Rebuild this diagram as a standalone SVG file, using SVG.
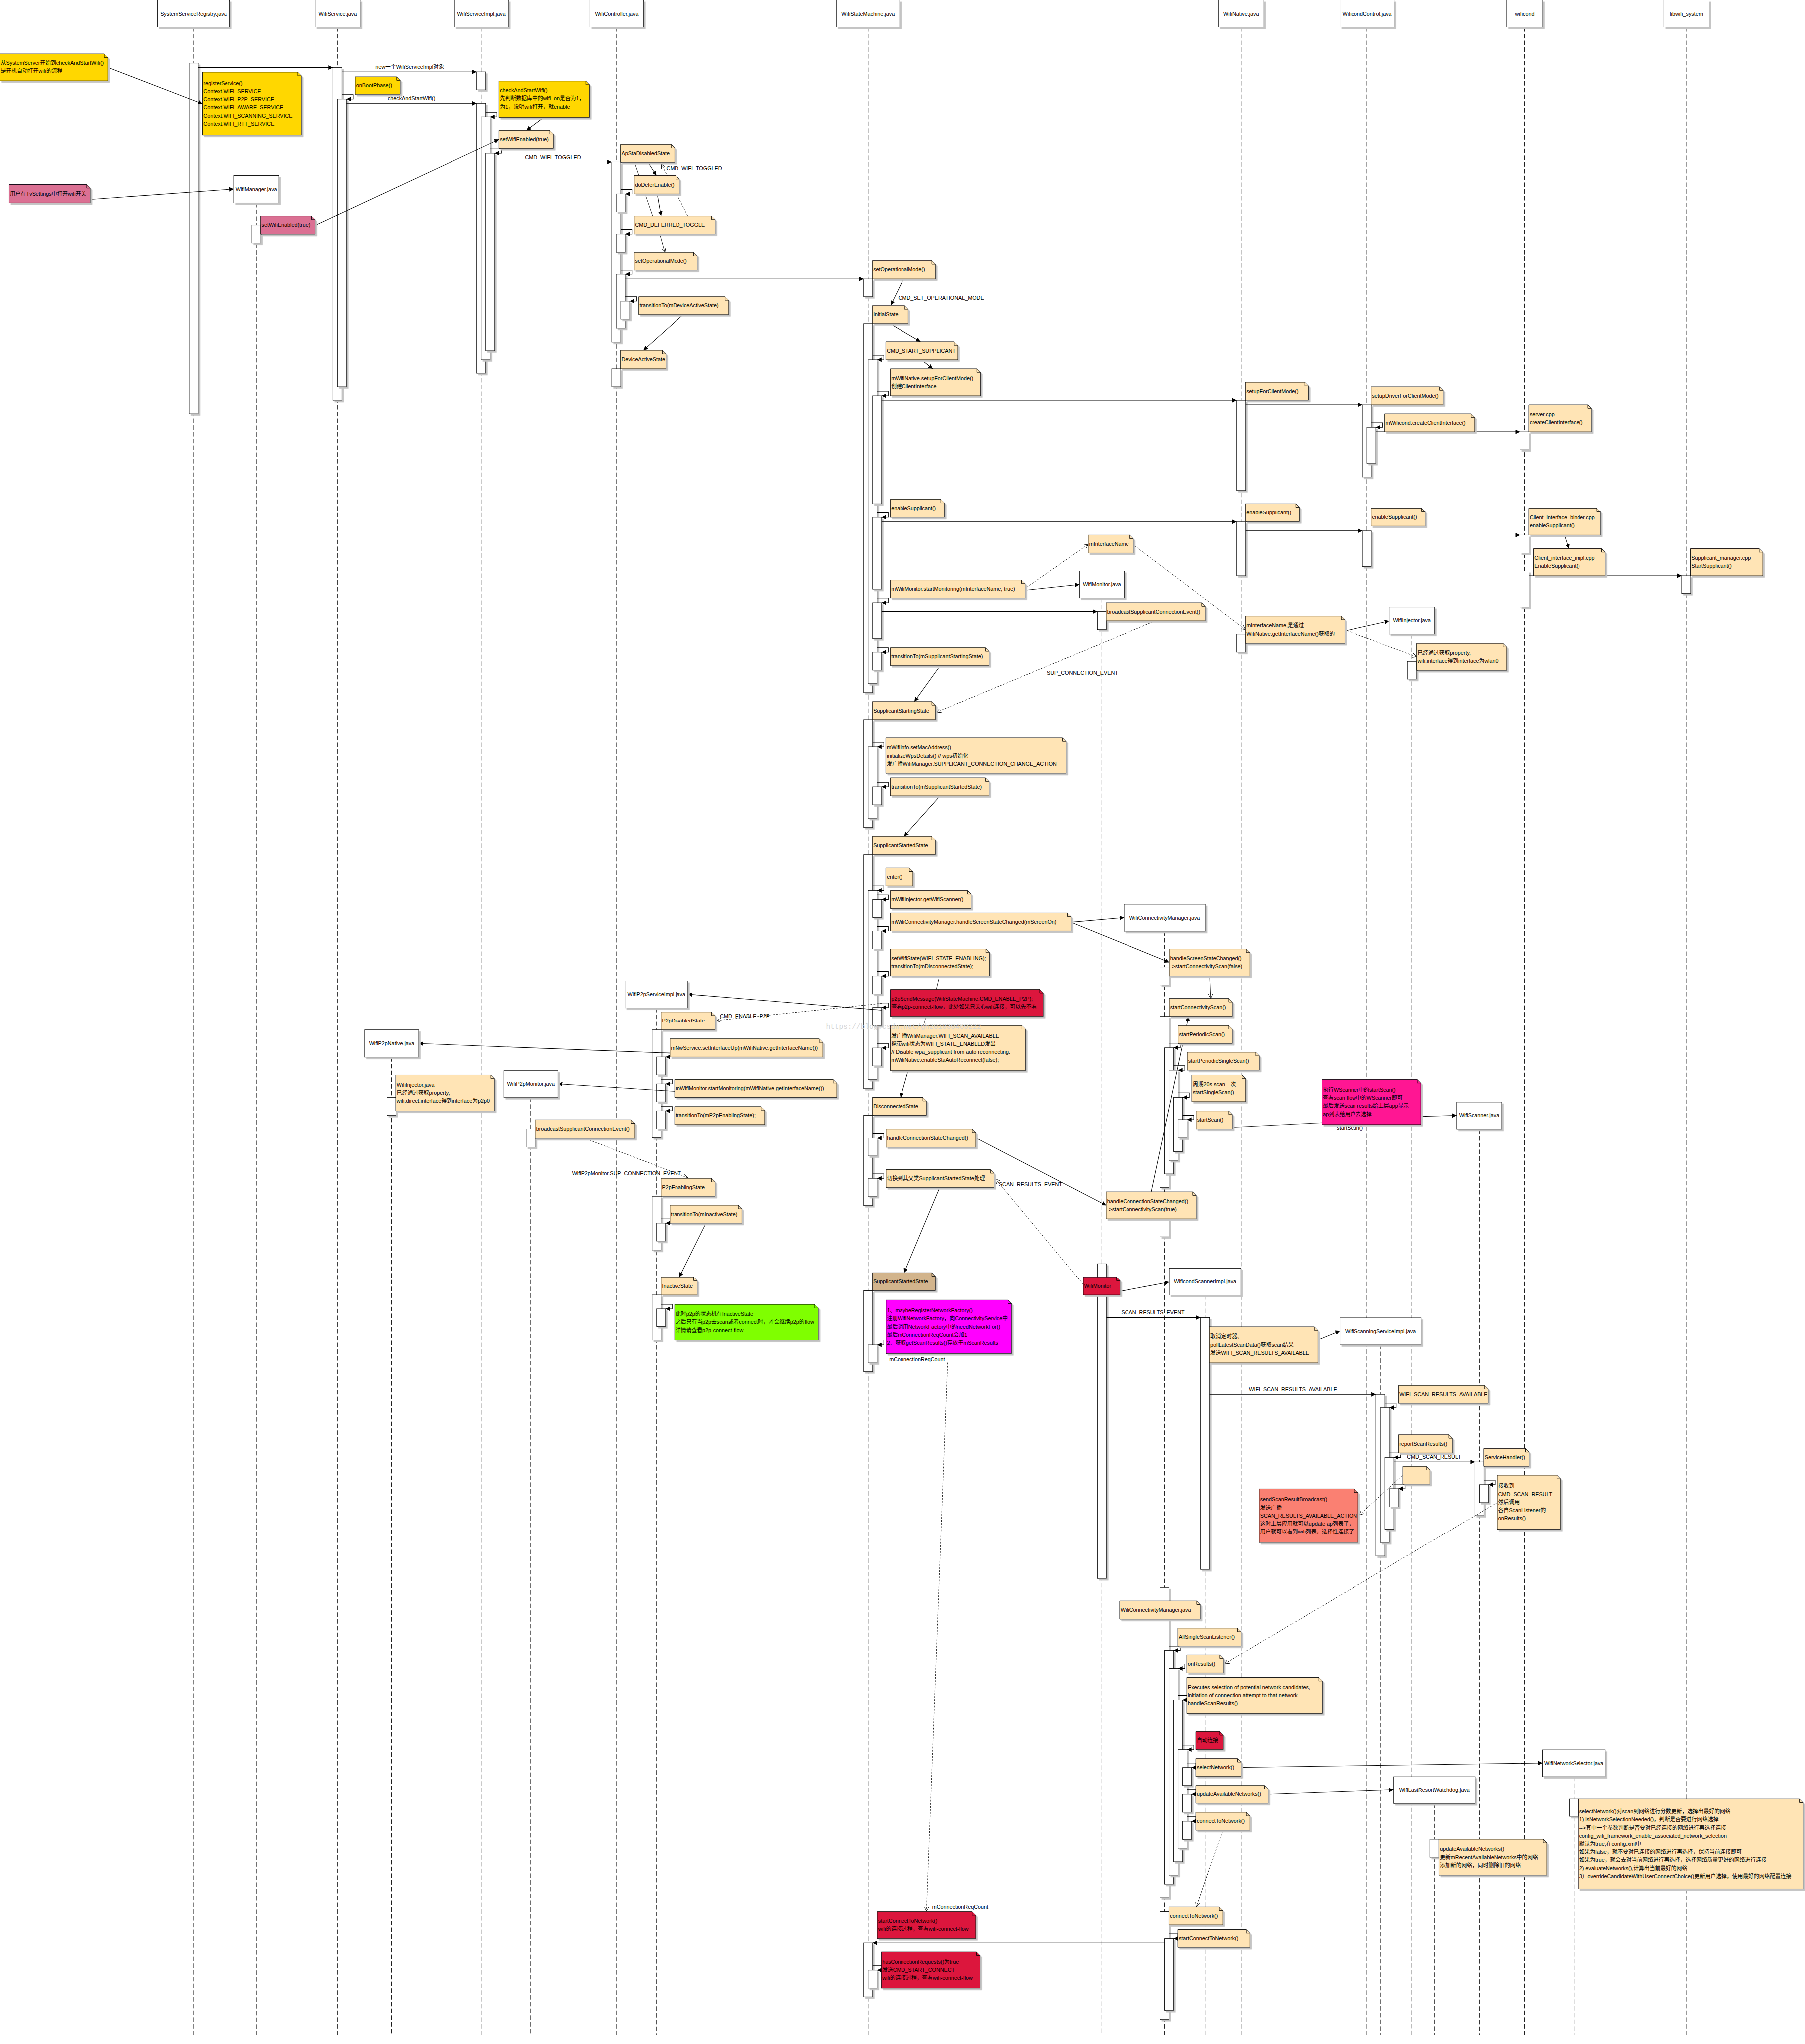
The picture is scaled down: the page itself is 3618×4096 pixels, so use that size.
<svg xmlns="http://www.w3.org/2000/svg" width="3618" height="4096" viewBox="0 0 3618 4096">
<defs>
<style>
text{font-family:"Liberation Sans","Noto Sans CJK SC",sans-serif;font-size:12px;fill:#000}
.c{text-anchor:middle}
.hb{fill:#fff;stroke:#000;stroke-width:1;filter:url(#ds)}
.ll{stroke:#000;stroke-width:1;stroke-dasharray:10 5;fill:none}
.br{fill:#fff;stroke:#000;stroke-width:1;filter:url(#ds)}
.nt{stroke:#000;stroke-width:1;filter:url(#ds)}
.fd{fill:none;stroke:#000;stroke-width:1}
.y{fill:#ffd700}.o{fill:#ffe4b5}.p{fill:#db7093}.r{fill:#dc143c}.dp{fill:#ff1493}.m{fill:#ff00ff}.g{fill:#7fff00}.s{fill:#fa8072}.tn{fill:#d2b48c}
.a{stroke:#000;stroke-width:1.2;fill:none;marker-end:url(#af)}
.ao{stroke:#000;stroke-width:1;fill:none;marker-end:url(#ao)}
.d{stroke:#000;stroke-width:1;fill:none;stroke-dasharray:4 3;marker-end:url(#ao)}
.l{stroke:#000;stroke-width:1;fill:none}
.wm{font-family:"Liberation Mono",monospace;font-size:16px;fill:#d6d6d6}
</style>
<filter id="ds" x="-30%" y="-20%" width="170%" height="160%"><feDropShadow dx="4" dy="4" stdDeviation="0" flood-color="#c4c4c4" flood-opacity="1"/></filter>
<marker id="af" viewBox="0 0 10 10" refX="10" refY="5" markerWidth="10" markerHeight="10" markerUnits="userSpaceOnUse" orient="auto"><path d="M0,0L10,5L0,10z" fill="#000"/></marker>
<marker id="ao" viewBox="0 0 10 10" refX="10" refY="5" markerWidth="10" markerHeight="10" markerUnits="userSpaceOnUse" orient="auto"><path d="M0,0L10,5L0,10" fill="none" stroke="#000" stroke-width="1"/></marker>
</defs>
<rect width="3618" height="4096" fill="#fff"/>
<g transform="scale(0.9012)">
<g id="lifelines">
<path class="ll" d="M430.5,60.5V4525M570.5,451V4525M750.5,60.5V4525M870.5,2351V4525M1070.5,60.5V4525M1180.5,2441V4525M1370.5,60.5V4525M1460,2241V4525M1930.5,60.5V4525M2450.5,1330V4525M2590.5,2070.5V4525M2680.5,2880V4525M2760.5,60.5V4525M3040.5,60.5V4525M3070.5,2990.5V4525M3140.5,1410V4525M3190.5,4010.5V4525M3290.5,2511V4525M3390.5,60.5V4525M3500.5,3950.5V4525M3750.5,60.5V4525"/>
</g>
<g id="bars">
<rect class="br" x="420.5" y="140.5" width="20" height="779.5"/>
<rect class="br" x="560.5" y="500" width="20" height="40"/>
<rect class="br" x="740.5" y="150.5" width="20" height="739.5"/>
<rect class="br" x="750.5" y="220.5" width="20" height="639.5"/>
<rect class="br" x="1060.5" y="160" width="20" height="40"/>
<rect class="br" x="1060.5" y="230" width="20" height="600"/>
<rect class="br" x="1070.5" y="260" width="20" height="540"/>
<rect class="br" x="1080.5" y="340.5" width="20" height="439.5"/>
<rect class="br" x="1360.5" y="360" width="20" height="401"/>
<rect class="br" x="1370.5" y="431" width="20" height="40"/>
<rect class="br" x="1370.5" y="520" width="20" height="40.5"/>
<rect class="br" x="1370.5" y="610" width="20" height="120"/>
<rect class="br" x="1380.5" y="670" width="20" height="40"/>
<rect class="br" x="1360.5" y="820" width="20" height="40"/>
<rect class="br" x="1920.5" y="620.5" width="20" height="39.5"/>
<rect class="br" x="1920.5" y="720" width="20" height="820"/>
<rect class="br" x="1930.5" y="800" width="20" height="720"/>
<rect class="br" x="1940.5" y="880" width="20" height="240"/>
<rect class="br" x="1940.5" y="1150.5" width="20" height="160"/>
<rect class="br" x="1940.5" y="1340.5" width="20" height="79.5"/>
<rect class="br" x="1940.5" y="1450" width="20" height="40"/>
<rect class="br" x="1920.5" y="1600" width="20" height="240.5"/>
<rect class="br" x="1930.5" y="1660" width="20" height="160"/>
<rect class="br" x="1940.5" y="1750" width="20" height="40"/>
<rect class="br" x="1920.5" y="1900.5" width="20" height="520.5"/>
<rect class="br" x="1930.5" y="1980" width="20" height="420.5"/>
<rect class="br" x="1940.5" y="2000" width="20" height="40"/>
<rect class="br" x="1940.5" y="2070" width="20" height="40"/>
<rect class="br" x="1940.5" y="2170" width="20" height="40"/>
<rect class="br" x="1940.5" y="2240" width="20" height="40.5"/>
<rect class="br" x="1940.5" y="2330.5" width="20" height="40"/>
<rect class="br" x="1920.5" y="2480.5" width="20" height="200"/>
<rect class="br" x="1930.5" y="2530.5" width="20" height="39.5"/>
<rect class="br" x="1930.5" y="2620" width="20" height="40"/>
<rect class="br" x="1920.5" y="2870" width="20" height="180"/>
<rect class="br" x="1930.5" y="2990.5" width="20" height="40"/>
<rect class="br" x="1920.5" y="4320" width="20" height="120"/>
<rect class="br" x="1930.5" y="4380.5" width="20" height="40"/>
<rect class="br" x="2750.5" y="890" width="20" height="200.5"/>
<rect class="br" x="2750.5" y="1160.5" width="20" height="120"/>
<rect class="br" x="2750.5" y="1410" width="20" height="40"/>
<rect class="br" x="3030.5" y="900" width="20" height="160.5"/>
<rect class="br" x="3040.5" y="950" width="20" height="80"/>
<rect class="br" x="3030.5" y="1180.5" width="20" height="79.5"/>
<rect class="br" x="3380.5" y="960" width="20" height="40"/>
<rect class="br" x="3380.5" y="1190" width="20" height="40"/>
<rect class="br" x="3380.5" y="1270" width="20" height="80"/>
<rect class="br" x="3740.5" y="1280.5" width="20" height="39.5"/>
<rect class="br" x="2440.5" y="1360" width="20" height="40"/>
<rect class="br" x="2440.5" y="2810" width="20" height="700"/>
<rect class="br" x="3130.5" y="1470.5" width="20" height="39.5"/>
<rect class="br" x="2580.5" y="2150" width="20" height="40"/>
<rect class="br" x="2580.5" y="2260" width="20" height="380.5"/>
<rect class="br" x="2590.5" y="2330" width="20" height="280"/>
<rect class="br" x="2600.5" y="2380" width="20" height="200"/>
<rect class="br" x="2610.5" y="2440.5" width="20" height="120"/>
<rect class="br" x="2620.5" y="2490" width="20" height="40"/>
<rect class="br" x="2580.5" y="2710" width="20" height="40"/>
<rect class="br" x="2580.5" y="3530" width="20" height="690"/>
<rect class="br" x="2590.5" y="3670" width="20" height="520"/>
<rect class="br" x="2600.5" y="3710" width="20" height="460"/>
<rect class="br" x="2610.5" y="3780" width="20" height="360"/>
<rect class="br" x="2620.5" y="3890" width="20" height="220"/>
<rect class="br" x="2630.5" y="3930" width="20" height="40"/>
<rect class="br" x="2630.5" y="3990" width="20" height="40"/>
<rect class="br" x="2630.5" y="4050" width="20" height="40.5"/>
<rect class="br" x="2580.5" y="4250.5" width="20" height="239.5"/>
<rect class="br" x="2590.5" y="4310.5" width="20" height="159.5"/>
<rect class="br" x="1450" y="2290" width="20" height="239.5"/>
<rect class="br" x="1460" y="2350.5" width="20" height="40"/>
<rect class="br" x="1460" y="2410.5" width="20" height="40"/>
<rect class="br" x="1460" y="2470.5" width="20" height="40"/>
<rect class="br" x="1450" y="2660" width="20" height="119.5"/>
<rect class="br" x="1460" y="2719.5" width="20" height="40"/>
<rect class="br" x="1450" y="2879.5" width="20" height="100.5"/>
<rect class="br" x="1460" y="2910.5" width="20" height="39.5"/>
<rect class="br" x="860.5" y="2440.5" width="20" height="40"/>
<rect class="br" x="1170.5" y="2510.5" width="20" height="40"/>
<rect class="br" x="2670.5" y="2930" width="20" height="560"/>
<rect class="br" x="3060.5" y="3100.5" width="20" height="359.5"/>
<rect class="br" x="3070.5" y="3130" width="20" height="300"/>
<rect class="br" x="3080.5" y="3240.5" width="20" height="160"/>
<rect class="br" x="3090.5" y="3310" width="20" height="40.5"/>
<rect class="br" x="3280.5" y="3250.5" width="20" height="119.5"/>
<rect class="br" x="3290.5" y="3301" width="20" height="40"/>
<rect class="br" x="3180.5" y="4090" width="20" height="40"/>
<rect class="br" x="3490.5" y="4000.5" width="20" height="38.5"/>
</g>
<g id="connectors">
<path class="l" d="M1411.8,364.8L1451,479.6"/>
<path class="a" d="M440.5,150.5H740.5"/>
<path class="a" d="M760.5,160H1060.5"/>
<path class="a" d="M770.5,230H1060.5"/>
<path class="a" d="M1100.5,360H1360.5"/>
<path class="a" d="M1390.5,620.5H1920.5"/>
<path class="a" d="M1960.5,890H2750.5"/>
<path class="a" d="M2770.5,900H3030.5"/>
<path class="a" d="M3060.5,960H3380.5"/>
<path class="a" d="M1960.5,1160.5H2750.5"/>
<path class="a" d="M2770.5,1180.5H3030.5"/>
<path class="a" d="M3050.5,1190H3380.5"/>
<path class="a" d="M3400.5,1280.5H3740.5"/>
<path class="a" d="M1960.5,1360H2440.5"/>
<path class="a" d="M2460.5,2930H2670.5"/>
<path class="a" d="M2690.5,3100.5H3060.5"/>
<path class="a" d="M3100.5,3250.5H3280.5"/>
<path class="a" d="M2590.5,4320H1940.5"/>
<path class="a" d="M760.5,210.5H785.5V220.5H770.5"/>
<path class="a" d="M1080.5,250.5H1105.5V260H1090.5"/>
<path class="a" d="M1090.5,331H1115.5V340.5H1100.5"/>
<path class="a" d="M1380.5,421H1405.5V431H1390.5"/>
<path class="a" d="M1380.5,510H1405.5V520H1390.5"/>
<path class="a" d="M1380.5,601H1405.5V610H1390.5"/>
<path class="a" d="M1390.5,660H1415.5V670H1400.5"/>
<path class="a" d="M1940.5,790H1965.5V800H1950.5"/>
<path class="a" d="M1950.5,870H1975.5V880H1960.5"/>
<path class="a" d="M1950.5,1140H1975.5V1150.5H1960.5"/>
<path class="a" d="M1950.5,1330H1975.5V1340.5H1960.5"/>
<path class="a" d="M1950.5,1440H1975.5V1450H1960.5"/>
<path class="a" d="M1940.5,1650H1965.5V1660H1950.5"/>
<path class="a" d="M1950.5,1740H1975.5V1750H1960.5"/>
<path class="a" d="M1940.5,1970H1965.5V1980H1950.5"/>
<path class="a" d="M1950.5,1990H1975.5V2000H1960.5"/>
<path class="a" d="M1950.5,2060H1975.5V2070H1960.5"/>
<path class="a" d="M1950.5,2160H1975.5V2170H1960.5"/>
<path class="a" d="M1950.5,2230H1975.5V2240H1960.5"/>
<path class="a" d="M1950.5,2320.5H1975.5V2330.5H1960.5"/>
<path class="a" d="M1940.5,2520.5H1965.5V2530.5H1950.5"/>
<path class="a" d="M1940.5,2610H1965.5V2620H1950.5"/>
<path class="a" d="M1940.5,2980H1965.5V2990.5H1950.5"/>
<path class="a" d="M1940.5,4370.5H1965.5V4380.5H1950.5"/>
<path class="a" d="M3050.5,940H3075.5V950H3060.5"/>
<path class="a" d="M2600.5,2320H2625.5V2330H2610.5"/>
<path class="a" d="M2610.5,2370H2635.5V2380H2620.5"/>
<path class="a" d="M2620.5,2430.5H2645.5V2440.5H2630.5"/>
<path class="a" d="M2630.5,2480.5H2655.5V2490H2640.5"/>
<path class="a" d="M2600.5,3660.5H2625.5V3670H2610.5"/>
<path class="a" d="M2610.5,3700H2635.5V3710H2620.5"/>
<path class="a" d="M2620.5,3770H2645.5V3780H2630.5"/>
<path class="a" d="M2630.5,3880H2655.5V3890H2640.5"/>
<path class="a" d="M2640.5,3920H2660V3930H2650.5"/>
<path class="a" d="M2640.5,3980H2660V3990H2650.5"/>
<path class="a" d="M2640.5,4040H2660V4050H2650.5"/>
<path class="a" d="M2600.5,4300H2620V4310.5H2610.5"/>
<path class="a" d="M1470,2340H1495V2350.5H1480"/>
<path class="a" d="M1470,2400.5H1495V2410.5H1480"/>
<path class="a" d="M1470,2461H1495V2470.5H1480"/>
<path class="a" d="M1470,2710H1495V2719.5H1480"/>
<path class="a" d="M1470,2900.5H1495V2910.5H1480"/>
<path class="a" d="M3080.5,3120H3105.5V3130H3090.5"/>
<path class="a" d="M3090.5,3230.5H3115.5V3240.5H3100.5"/>
<path class="a" d="M3100.5,3300H3125.5V3310H3110.5"/>
<path class="a" d="M3300.5,3291H3325.5V3301H3310.5"/>
<path class="a" d="M244.6,152L450,231"/>
<path class="a" d="M1205,264.7L1171,290"/>
<path class="a" d="M204,443L520.5,420"/>
<path class="a" d="M705,499L1110,310"/>
<path class="a" d="M1443.4,364.8L1459.6,390"/>
<path class="a" d="M1462,433.7L1470,479.6"/>
<path class="d" d="M1529.7,479.6L1470.8,364.8"/>
<path class="ao" d="M1468,523L1478.5,560.6"/>
<path class="a" d="M2008,624L1981,679"/>
<path class="a" d="M1516,703L1430.6,779"/>
<path class="a" d="M1986,724L2047.6,760"/>
<path class="a" d="M2056,805L2075,820"/>
<path class="a" d="M3481,1195L3489,1220"/>
<path class="a" d="M2284,1312.5L2400.5,1300"/>
<path class="d" d="M2284,1306L2420,1210.5"/>
<path class="d" d="M2523.7,1213.6L2770,1400"/>
<path class="d" d="M2564,1383L2083.5,1583.5"/>
<path class="a" d="M2088,1485L2034,1560"/>
<path class="a" d="M2995,1402L3090,1381"/>
<path class="d" d="M2995,1402L3151,1460.5"/>
<path class="a" d="M2088,1774L2011,1860"/>
<path class="a" d="M2382,2050.5L2500,2040"/>
<path class="a" d="M2382,2050.5L2601,2139.6"/>
<path class="ao" d="M2691,2175L2693,2220"/>
<path class="l" d="M2089,2175L2083,2200"/>
<path class="a" d="M1960.5,2246L1530,2210.5"/>
<path class="d" d="M1960.5,2231L1595,2269"/>
<path class="l" d="M2059,2264L2054.5,2280.6"/>
<path class="a" d="M2019,2384L2003,2440.6"/>
<path class="l" d="M2744,2507L2940,2497"/>
<path class="a" d="M3163,2483L3240,2480.6"/>
<path class="a" d="M1490,2342L931,2320.6"/>
<path class="a" d="M1500.5,2427L1241,2410.4"/>
<path class="d" d="M1310,2534.5L1530,2618.7"/>
<path class="a" d="M2174,2531.7L2460,2680"/>
<path class="a" d="M2089,2644L2011,2830"/>
<path class="d" d="M2409,2856L2214,2621"/>
<path class="a" d="M2561,2650L2644,2260"/>
<path class="a" d="M1568,2724.7L1511,2839.7"/>
<path class="a" d="M2494,2871L2601,2851"/>
<path class="d" d="M2108,3030L2061,4250"/>
<path class="a" d="M2934,2978.6L2980,2959.7"/>
<path class="d" d="M3119.5,3280.5L3024,3368.5"/>
<path class="d" d="M3330,3341L2724,3699.5"/>
<path class="a" d="M2763.6,3929.7L3430.5,3920"/>
<path class="a" d="M2823,3990L3100,3980"/>
<path class="d" d="M2719,4073L2661,4240"/>
<text x="911" y="153" class="c">new一个WifiServiceImpl对象</text>
<text x="915" y="223" class="c">checkAndStartWifi()</text>
<text x="1230" y="354" class="c">CMD_WIFI_TOGGLED</text>
<text x="1482" y="378">CMD_WIFI_TOGGLED</text>
<text x="1998" y="667">CMD_SET_OPERATIONAL_MODE</text>
<text x="2328" y="1500">SUP_CONNECTION_EVENT</text>
<text x="1601.5" y="2264">CMD_ENABLE_P2P</text>
<text x="1272.4" y="2613">WifiP2pMonitor.SUP_CONNECTION_EVENT</text>
<text x="2221.4" y="2637.5">SCAN_RESULTS_EVENT</text>
<text x="2973" y="2512.6">startScan()</text>
<text x="2494" y="2923">SCAN_RESULTS_EVENT</text>
<text x="2777.7" y="3093.5">WIFI_SCAN_RESULTS_AVAILABLE</text>
<text x="3129.5" y="3243">CMD_SCAN_RESULT</text>
<text x="1977.7" y="3027.5">mConnectionReqCount</text>
<text x="2073.6" y="4244">mConnectionReqCount</text>
</g>
<g id="h-ssr"><rect class="hb" x="350" y="0.5" width="161" height="60"/><text x="430.5" y="35" class="c">SystemServiceRegistry.java</text></g>
<g id="h-ws"><rect class="hb" x="701" y="0.5" width="100" height="60"/><text x="751" y="35" class="c">WifiService.java</text></g>
<g id="h-wsi"><rect class="hb" x="1011" y="0.5" width="120" height="60"/><text x="1071" y="35" class="c">WifiServiceImpl.java</text></g>
<g id="h-ctrl"><rect class="hb" x="1312" y="0.5" width="119" height="60"/><text x="1371.5" y="35" class="c">WifiController.java</text></g>
<g id="h-wsm"><rect class="hb" x="1860" y="0.5" width="141" height="60"/><text x="1930.5" y="35" class="c">WifiStateMachine.java</text></g>
<g id="h-wn"><rect class="hb" x="2710" y="0.5" width="101" height="60"/><text x="2760.5" y="35" class="c">WifiNative.java</text></g>
<g id="h-wcc"><rect class="hb" x="2980" y="0.5" width="121" height="60"/><text x="3040.5" y="35" class="c">WificondControl.java</text></g>
<g id="h-wificond"><rect class="hb" x="3351" y="0.5" width="80" height="60"/><text x="3391" y="35" class="c">wificond</text></g>
<g id="h-libwifi"><rect class="hb" x="3701" y="0.5" width="100" height="60"/><text x="3751" y="35" class="c">libwifi_system</text></g>
<g id="b-wm"><rect class="hb" x="520.5" y="390" width="100" height="61"/><text x="570.5" y="424.5" class="c">WifiManager.java</text></g>
<g id="b-mon"><rect class="hb" x="2400.5" y="1270" width="100" height="60"/><text x="2450.5" y="1304" class="c">WifiMonitor.java</text></g>
<g id="b-inj"><rect class="hb" x="3090" y="1350" width="101" height="60"/><text x="3140.5" y="1384" class="c">WifiInjector.java</text></g>
<g id="b-wcm"><rect class="hb" x="2500" y="2010.5" width="181" height="60"/><text x="2590.5" y="2044.5" class="c">WifiConnectivityManager.java</text></g>
<g id="b-p2psi"><rect class="hb" x="1390" y="2181" width="140" height="60"/><text x="1460" y="2215" class="c">WifiP2pServiceImpl.java</text></g>
<g id="b-p2pn"><rect class="hb" x="811" y="2290" width="120" height="61"/><text x="871" y="2324.5" class="c">WifiP2pNative.java</text></g>
<g id="b-p2pm"><rect class="hb" x="1121" y="2381" width="120" height="60"/><text x="1181" y="2415" class="c">WifiP2pMonitor.java</text></g>
<g id="b-scanner"><rect class="hb" x="3240" y="2451" width="100" height="60"/><text x="3290" y="2485" class="c">WifiScanner.java</text></g>
<g id="b-wcsi"><rect class="hb" x="2601" y="2820" width="159" height="60"/><text x="2680.5" y="2854" class="c">WificondScannerImpl.java</text></g>
<g id="b-wssi"><rect class="hb" x="2980" y="2930.5" width="181" height="60"/><text x="3070.5" y="2964.5" class="c">WifiScanningServiceImpl.java</text></g>
<g id="b-ns"><rect class="hb" x="3430.5" y="3890.5" width="140" height="60"/><text x="3500.5" y="3924.5" class="c">WifiNetworkSelector.java</text></g>
<g id="b-lr"><rect class="hb" x="3100" y="3950.5" width="181" height="60"/><text x="3190.5" y="3984.5" class="c">WifiLastResortWatchdog.java</text></g>
<g id="n1"><path class="nt y" d="M0,120H232L240,128V180H0Z"/><path class="fd" d="M232,120V128H240"/><text x="2" y="144.5">从SystemServer开始到checkAndStartWifi()</text><text x="2" y="162.5">是开机自动打开wifi的流程</text></g>
<g id="n2"><path class="nt y" d="M450,160.7H662.5L670.5,168.7V300.4H450Z"/><path class="fd" d="M662.5,160.7V168.7H670.5"/><text x="452" y="189.5">registerService()</text><text x="452" y="207.5">Context.WIFI_SERVICE</text><text x="452" y="225.5">Context.WIFI_P2P_SERVICE</text><text x="452" y="243.5">Context.WIFI_AWARE_SERVICE</text><text x="452" y="261.5">Context.WIFI_SCANNING_SERVICE</text><text x="452" y="279.5">Context.WIFI_RTT_SERVICE</text></g>
<g id="n3"><path class="nt y" d="M790,171H882L890,179V210H790Z"/><path class="fd" d="M882,171V179H890"/><text x="792" y="194.5">onBootPhase()</text></g>
<g id="n4"><path class="nt y" d="M1110,180.5H1303L1311,188.5V261.5H1110Z"/><path class="fd" d="M1303,180.5V188.5H1311"/><text x="1112" y="205.5">checkAndStartWifi()</text><text x="1112" y="223.5">先判断数据库中的wifi_on是否为1，</text><text x="1112" y="241.5">为1，说明wifi打开，就enable</text></g>
<g id="n5"><path class="nt o" d="M1110,290H1223L1231,298V330H1110Z"/><path class="fd" d="M1223,290V298H1231"/><text x="1112" y="314">setWifiEnabled(true)</text></g>
<g id="n6"><path class="nt p" d="M20.5,410H193L201,418V451H20.5Z"/><path class="fd" d="M193,410V418H201"/><text x="22.5" y="434.5">用户在TvSettings中打开wifi开关</text></g>
<g id="n7"><path class="nt p" d="M580,480H693L701,488V520.5H580Z"/><path class="fd" d="M693,480V488H701"/><text x="582" y="504">setWifiEnabled(true)</text></g>
<g id="n8"><path class="nt o" d="M1380,321H1492.7L1500.7,329V361H1380Z"/><path class="fd" d="M1492.7,321V329H1500.7"/><text x="1382" y="345">ApStaDisabledState</text></g>
<g id="n9"><path class="nt o" d="M1410,390H1503L1511,398V431H1410Z"/><path class="fd" d="M1503,390V398H1511"/><text x="1412" y="414.5">doDeferEnable()</text></g>
<g id="n10"><path class="nt o" d="M1410,480H1583L1591,488V520H1410Z"/><path class="fd" d="M1583,480V488H1591"/><text x="1412" y="504">CMD_DEFERRED_TOGGLE</text></g>
<g id="n11"><path class="nt o" d="M1410,560.6H1543L1551,568.6V601H1410Z"/><path class="fd" d="M1543,560.6V568.6H1551"/><text x="1412" y="584.8">setOperationalMode()</text></g>
<g id="n12"><path class="nt o" d="M1420,660H1613L1621,668V700H1420Z"/><path class="fd" d="M1613,660V668H1621"/><text x="1422" y="684">transitionTo(mDeviceActiveState)</text></g>
<g id="n13"><path class="nt o" d="M1380,779H1473L1481,787V820H1380Z"/><path class="fd" d="M1473,779V787H1481"/><text x="1382" y="803.5">DeviceActiveState</text></g>
<g id="n14"><path class="nt o" d="M1940,580H2073L2081,588V620.5H1940Z"/><path class="fd" d="M2073,580V588H2081"/><text x="1942" y="604">setOperationalMode()</text></g>
<g id="n15"><path class="nt o" d="M1940,680H2012L2020,688V720H1940Z"/><path class="fd" d="M2012,680V688H2020"/><text x="1942" y="704">InitialState</text></g>
<g id="n16"><path class="nt o" d="M1970,760H2122.5L2130.5,768V800H1970Z"/><path class="fd" d="M2122.5,760V768H2130.5"/><text x="1972" y="784">CMD_START_SUPPLICANT</text></g>
<g id="n17"><path class="nt o" d="M1980,820H2173L2181,828V880H1980Z"/><path class="fd" d="M2173,820V828H2181"/><text x="1982" y="845">mWifiNative.setupForClientMode()</text><text x="1982" y="863">创建ClientInterface</text></g>
<g id="n18"><path class="nt o" d="M2770,850H2902L2910,858V890H2770Z"/><path class="fd" d="M2902,850V858H2910"/><text x="2772" y="874">setupForClientMode()</text></g>
<g id="n19"><path class="nt o" d="M3050,860H3202L3210,868V900H3050Z"/><path class="fd" d="M3202,860V868H3210"/><text x="3052" y="884">setupDriverForClientMode()</text></g>
<g id="n20"><path class="nt o" d="M3080,920H3272L3280,928V960H3080Z"/><path class="fd" d="M3272,920V928H3280"/><text x="3082" y="944">mWificond.createClientInterface()</text></g>
<g id="n21"><path class="nt o" d="M3400,900H3532L3540,908V960H3400Z"/><path class="fd" d="M3532,900V908H3540"/><text x="3402" y="925">server.cpp</text><text x="3402" y="943">createClientInterface()</text></g>
<g id="n22"><path class="nt o" d="M1980,1110H2093L2101,1118V1150.5H1980Z"/><path class="fd" d="M2093,1110V1118H2101"/><text x="1982" y="1134">enableSupplicant()</text></g>
<g id="n23"><path class="nt o" d="M2770,1120H2882L2890,1128V1160H2770Z"/><path class="fd" d="M2882,1120V1128H2890"/><text x="2772" y="1144">enableSupplicant()</text></g>
<g id="n24"><path class="nt o" d="M3050,1130H3162L3170,1138V1170H3050Z"/><path class="fd" d="M3162,1130V1138H3170"/><text x="3052" y="1154">enableSupplicant()</text></g>
<g id="n25"><path class="nt o" d="M3400,1130H3552L3560,1138V1190H3400Z"/><path class="fd" d="M3552,1130V1138H3560"/><text x="3402" y="1155">Client_interface_binder.cpp</text><text x="3402" y="1173">enableSupplicant()</text></g>
<g id="n26"><path class="nt o" d="M3410.5,1220H3562.5L3570.5,1228V1280.6H3410.5Z"/><path class="fd" d="M3562.5,1220V1228H3570.5"/><text x="3412.5" y="1245.3">Client_interface_impl.cpp</text><text x="3412.5" y="1263.3">EnableSupplicant()</text></g>
<g id="n27"><path class="nt o" d="M3760,1220H3912.5L3920.5,1228V1280.6H3760Z"/><path class="fd" d="M3912.5,1220V1228H3920.5"/><text x="3762" y="1245.3">Supplicant_manager.cpp</text><text x="3762" y="1263.3">StartSupplicant()</text></g>
<g id="n28"><path class="nt o" d="M2420,1190H2513L2521,1198V1230H2420Z"/><path class="fd" d="M2513,1190V1198H2521"/><text x="2422" y="1214">mInterfaceName</text></g>
<g id="n29"><path class="nt o" d="M1980,1290H2272L2280,1298V1330H1980Z"/><path class="fd" d="M2272,1290V1298H2280"/><text x="1982" y="1314">mWifiMonitor.startMonitoring(mInterfaceName, true)</text></g>
<g id="n30"><path class="nt o" d="M2460,1340.5H2673L2681,1348.5V1380.5H2460Z"/><path class="fd" d="M2673,1340.5V1348.5H2681"/><text x="2462" y="1364.5">broadcastSupplicantConnectionEvent()</text></g>
<g id="n31"><path class="nt o" d="M2770,1370H2983L2991,1378V1430.5H2770Z"/><path class="fd" d="M2983,1370V1378H2991"/><text x="2772" y="1395.3">mInterfaceName,是通过</text><text x="2772" y="1413.3">WifiNative.getInterfaceName()获取的</text></g>
<g id="n32"><path class="nt o" d="M3151,1430.5H3343L3351,1438.5V1490.5H3151Z"/><path class="fd" d="M3343,1430.5V1438.5H3351"/><text x="3153" y="1455.5">已经通过获取property,</text><text x="3153" y="1473.5">wifi.interface得到interface为wlan0</text></g>
<g id="n33"><path class="nt o" d="M1980,1440H2192L2200,1448V1480H1980Z"/><path class="fd" d="M2192,1440V1448H2200"/><text x="1982" y="1464">transitionTo(mSupplicantStartingState)</text></g>
<g id="n34"><path class="nt o" d="M1940,1560H2073L2081,1568V1600H1940Z"/><path class="fd" d="M2073,1560V1568H2081"/><text x="1942" y="1584">SupplicantStartingState</text></g>
<g id="n35"><path class="nt o" d="M1970,1640H2363L2371,1648V1720H1970Z"/><path class="fd" d="M2363,1640V1648H2371"/><text x="1972" y="1666">mWifiInfo.setMacAddress()</text><text x="1972" y="1684">initializeWpsDetails() // wps初始化</text><text x="1972" y="1702">发广播WifiManager.SUPPLICANT_CONNECTION_CHANGE_ACTION</text></g>
<g id="n36"><path class="nt o" d="M1980,1730H2192L2200,1738V1770H1980Z"/><path class="fd" d="M2192,1730V1738H2200"/><text x="1982" y="1754">transitionTo(mSupplicantStartedState)</text></g>
<g id="n37"><path class="nt o" d="M1940,1860H2073L2081,1868V1900.5H1940Z"/><path class="fd" d="M2073,1860V1868H2081"/><text x="1942" y="1884">SupplicantStartedState</text></g>
<g id="n38"><path class="nt o" d="M1970,1930H2022.6L2030.6,1938V1970H1970Z"/><path class="fd" d="M2022.6,1930V1938H2030.6"/><text x="1972" y="1954">enter()</text></g>
<g id="n39"><path class="nt o" d="M1980,1980H2152L2160,1988V2020H1980Z"/><path class="fd" d="M2152,1980V1988H2160"/><text x="1982" y="2004">mWifiInjector.getWifiScanner()</text></g>
<g id="n40"><path class="nt o" d="M1980,2030H2374L2382,2038V2070H1980Z"/><path class="fd" d="M2374,2030V2038H2382"/><text x="1982" y="2054">mWifiConnectivityManager.handleScreenStateChanged(mScreenOn)</text></g>
<g id="n41"><path class="nt o" d="M2601,2110H2772L2780,2118V2170H2601Z"/><path class="fd" d="M2772,2110V2118H2780"/><text x="2603" y="2135">handleScreenStateChanged()</text><text x="2603" y="2153">-&gt;startConnectivityScan(false)</text></g>
<g id="n42"><path class="nt o" d="M1980,2110H2193L2201,2118V2170H1980Z"/><path class="fd" d="M2193,2110V2118H2201"/><text x="1982" y="2135">setWifiState(WIFI_STATE_ENABLING);</text><text x="1982" y="2153">transitionTo(mDisconnectedState);</text></g>
<g id="n43"><path class="nt r" d="M1980,2200H2312.5L2320.5,2208V2260H1980Z"/><path class="fd" d="M2312.5,2200V2208H2320.5"/><text x="1982" y="2225">p2pSendMessage(WifiStateMachine.CMD_ENABLE_P2P);</text><text x="1982" y="2243">查看p2p-connect-flow，此处如果只关心wifi连接，可以先不看</text></g>
<g id="n44"><path class="nt o" d="M1980,2280.6H2273L2281,2288.6V2381H1980Z"/><path class="fd" d="M2273,2280.6V2288.6H2281"/><text x="1982" y="2307.8">发广播WifiManager.WIFI_SCAN_AVAILABLE</text><text x="1982" y="2325.8">携带wifi状态为WIFI_STATE_ENABLED发出</text><text x="1982" y="2343.8">// Disable wpa_supplicant from auto reconnecting.</text><text x="1982" y="2361.8">mWifiNative.enableStaAutoReconnect(false);</text></g>
<g id="n45"><path class="nt o" d="M2601,2220H2733L2741,2228V2260H2601Z"/><path class="fd" d="M2733,2220V2228H2741"/><text x="2603" y="2244">startConnectivityScan()</text></g>
<g id="n46"><path class="nt o" d="M2620.5,2280.6H2733L2741,2288.6V2320.6H2620.5Z"/><path class="fd" d="M2733,2280.6V2288.6H2741"/><text x="2622.5" y="2304.6">startPeriodicScan()</text></g>
<g id="n47"><path class="nt o" d="M2641,2340H2793L2801,2348V2380H2641Z"/><path class="fd" d="M2793,2340V2348H2801"/><text x="2643" y="2364">startPeriodicSingleScan()</text></g>
<g id="n48"><path class="nt o" d="M2651,2390.7H2762.5L2770.5,2398.7V2450H2651Z"/><path class="fd" d="M2762.5,2390.7V2398.7H2770.5"/><text x="2653" y="2415.4">周期20s scan一次</text><text x="2653" y="2433.4">startSingleScan()</text></g>
<g id="n49"><path class="nt o" d="M2660.7,2470.7H2733L2741,2478.7V2510.7H2660.7Z"/><path class="fd" d="M2733,2470.7V2478.7H2741"/><text x="2662.7" y="2494.7">startScan()</text></g>
<g id="n50"><path class="nt dp" d="M2940,2400.6H3152.5L3160.5,2408.6V2501H2940Z"/><path class="fd" d="M3152.5,2400.6V2408.6H3160.5"/><text x="2942" y="2427.8">执行WScanner中的startScan()</text><text x="2942" y="2445.8">查看scan flow中的WScanner即可</text><text x="2942" y="2463.8">最后发送scan results给上层app显示</text><text x="2942" y="2481.8">ap列表给用户去选择</text></g>
<g id="n51"><path class="nt o" d="M1470,2250H1583L1591,2258V2290H1470Z"/><path class="fd" d="M1583,2250V2258H1591"/><text x="1472" y="2274">P2pDisabledState</text></g>
<g id="n52"><path class="nt o" d="M1490,2310H1822L1830,2318V2350.7H1490Z"/><path class="fd" d="M1822,2310V2318H1830"/><text x="1492" y="2334.4">mNwService.setInterfaceUp(mWifiNative.getInterfaceName())</text></g>
<g id="n53"><path class="nt o" d="M880,2390.7H1092L1100,2398.7V2470.7H880Z"/><path class="fd" d="M1092,2390.7V2398.7H1100"/><text x="882" y="2416.7">WifiInjector.java</text><text x="882" y="2434.7">已经通过获取property,</text><text x="882" y="2452.7">wifi.direct.interface得到interface为p2p0</text></g>
<g id="n54"><path class="nt o" d="M1500.5,2400.6H1853L1861,2408.6V2440.6H1500.5Z"/><path class="fd" d="M1853,2400.6V2408.6H1861"/><text x="1502.5" y="2424.6">mWifiMonitor.startMonitoring(mWifiNative.getInterfaceName())</text></g>
<g id="n55"><path class="nt o" d="M1500.5,2461H1693L1701,2469V2501H1500.5Z"/><path class="fd" d="M1693,2461V2469H1701"/><text x="1502.5" y="2485">transitionTo(mP2pEnablingState);</text></g>
<g id="n56"><path class="nt o" d="M1190.5,2490.4H1403.5L1411.5,2498.4V2531H1190.5Z"/><path class="fd" d="M1403.5,2490.4V2498.4H1411.5"/><text x="1192.5" y="2514.7">broadcastSupplicantConnectionEvent()</text></g>
<g id="n57"><path class="nt o" d="M1940,2440.6H2053L2061,2448.6V2480.6H1940Z"/><path class="fd" d="M2053,2440.6V2448.6H2061"/><text x="1942" y="2464.6">DisconnectedState</text></g>
<g id="n58"><path class="nt o" d="M1970.5,2510.7H2162.5L2170.5,2518.7V2550.7H1970.5Z"/><path class="fd" d="M2162.5,2510.7V2518.7H2170.5"/><text x="1972.5" y="2534.7">handleConnectionStateChanged()</text></g>
<g id="n59"><path class="nt o" d="M1970.5,2600.5H2203L2211,2608.5V2640.5H1970.5Z"/><path class="fd" d="M2203,2600.5V2608.5H2211"/><text x="1972.5" y="2624.5">切换到其父类SupplicantStartedState处理</text></g>
<g id="n60"><path class="nt o" d="M1470,2620H1583L1591,2628V2660H1470Z"/><path class="fd" d="M1583,2620V2628H1591"/><text x="1472" y="2644">P2pEnablingState</text></g>
<g id="n61"><path class="nt o" d="M2460,2650H2653L2661,2658V2710H2460Z"/><path class="fd" d="M2653,2650V2658H2661"/><text x="2462" y="2675">handleConnectionStateChanged()</text><text x="2462" y="2693">-&gt;startConnectivityScan(true)</text></g>
<g id="n62"><path class="nt o" d="M1490,2679.7H1642.5L1650.5,2687.7V2719.7H1490Z"/><path class="fd" d="M1642.5,2679.7V2687.7H1650.5"/><text x="1492" y="2703.7">transitionTo(mInactiveState)</text></g>
<g id="n63"><path class="nt tn" d="M1940,2830H2073L2081,2838V2870H1940Z"/><path class="fd" d="M2073,2830V2838H2081"/><text x="1942" y="2854">SupplicantStartedState</text></g>
<g id="n64"><path class="nt o" d="M1470,2839.7H1543L1551,2847.7V2879.7H1470Z"/><path class="fd" d="M1543,2839.7V2847.7H1551"/><text x="1472" y="2863.7">InactiveState</text></g>
<g id="n65"><path class="nt r" d="M2409,2839.7H2483L2491,2847.7V2879.7H2409Z"/><path class="fd" d="M2483,2839.7V2847.7H2491"/><text x="2411" y="2863.7">WifiMonitor</text></g>
<g id="n66"><path class="nt m" d="M1970.5,2891H2242L2250,2899V3010H1970.5Z"/><path class="fd" d="M2242,2891V2899H2250"/><text x="1972.5" y="2918.5">1、maybeRegisterNetworkFactory()</text><text x="1972.5" y="2936.5">注册WifiNetworkFactory，向ConnectivityService中</text><text x="1972.5" y="2954.5">最后调用NetworkFactory中的needNetworkFor()</text><text x="1972.5" y="2972.5">最后mConnectionReqCount会加1</text><text x="1972.5" y="2990.5">2、获取getScanResults()存放于mScanResults</text></g>
<g id="n67"><path class="nt g" d="M1500.5,2900.7H1812L1820,2908.7V2980H1500.5Z"/><path class="fd" d="M1812,2900.7V2908.7H1820"/><text x="1502.5" y="2926.4">此时p2p的状态机在InactiveState</text><text x="1502.5" y="2944.4">之后只有当p2p去scan或者connect时，才会继续p2p的flow</text><text x="1502.5" y="2962.4">详情请查看p2p-connect-flow</text></g>
<g id="n68"><path class="nt o" d="M2690,2950.5H2923L2931,2958.5V3030.5H2690Z"/><path class="fd" d="M2923,2950.5V2958.5H2931"/><text x="2692" y="2976.5">取消定时器、</text><text x="2692" y="2994.5">pollLatestScanData()获取scan结果</text><text x="2692" y="3012.5">发送WIFI_SCAN_RESULTS_AVAILABLE</text></g>
<g id="n69"><path class="nt o" d="M3110.7,3080.6H3302L3310,3088.6V3120.4H3110.7Z"/><path class="fd" d="M3302,3080.6V3088.6H3310"/><text x="3112.7" y="3104.5">WIFI_SCAN_RESULTS_AVAILABLE</text></g>
<g id="n70"><path class="nt o" d="M3110.7,3190H3222.5L3230.5,3198V3230.6H3110.7Z"/><path class="fd" d="M3222.5,3190V3198H3230.5"/><text x="3112.7" y="3214.3">reportScanResults()</text></g>
<g id="n71"><path class="nt o" d="M3300,3220.6H3392.7L3400.7,3228.6V3260.4H3300Z"/><path class="fd" d="M3392.7,3220.6V3228.6H3400.7"/><text x="3302" y="3244.5">ServiceHandler()</text></g>
<g id="n72"><path class="nt o" d="M3120.4,3260.4H3172.6L3180.6,3268.4V3300H3120.4Z"/><path class="fd" d="M3172.6,3260.4V3268.4H3180.6"/></g>
<g id="n73"><path class="nt o" d="M3330,3280H3462.6L3470.6,3288V3400.5H3330Z"/><path class="fd" d="M3462.6,3280V3288H3470.6"/><text x="3332" y="3308.3">接收到</text><text x="3332" y="3326.3">CMD_SCAN_RESULT</text><text x="3332" y="3344.3">然后调用</text><text x="3332" y="3362.3">各自ScanListener的</text><text x="3332" y="3380.3">onResults()</text></g>
<g id="n74"><path class="nt s" d="M2800.6,3310.5H3012.6L3020.6,3318.5V3430H2800.6Z"/><path class="fd" d="M3012.6,3310.5V3318.5H3020.6"/><text x="2802.6" y="3338.3">sendScanResultBroadcast()</text><text x="2802.6" y="3356.3">发送广播</text><text x="2802.6" y="3374.3">SCAN_RESULTS_AVAILABLE_ACTION</text><text x="2802.6" y="3392.3">这时上层应用就可以update ap列表了，</text><text x="2802.6" y="3410.3">用户就可以看到wifi列表，选择性连接了</text></g>
<g id="n75"><path class="nt o" d="M2490,3560H2662L2670,3568V3600.6H2490Z"/><path class="fd" d="M2662,3560V3568H2670"/><text x="2492" y="3584.3">WifiConnectivityManager.java</text></g>
<g id="n76"><path class="nt o" d="M2620,3620.4H2752.5L2760.5,3628.4V3660.4H2620Z"/><path class="fd" d="M2752.5,3620.4V3628.4H2760.5"/><text x="2622" y="3644.4">AllSingleScanListener()</text></g>
<g id="n77"><path class="nt o" d="M2640,3680H2713L2721,3688V3720H2640Z"/><path class="fd" d="M2713,3680V3688H2721"/><text x="2642" y="3704">onResults()</text></g>
<g id="n78"><path class="nt o" d="M2640,3730H2933L2941,3738V3810H2640Z"/><path class="fd" d="M2933,3730V3738H2941"/><text x="2642" y="3756">Executes selection of potential network candidates,</text><text x="2642" y="3774">initiation of connection attempt to that network</text><text x="2642" y="3792">handleScanResults()</text></g>
<g id="n79"><path class="nt r" d="M2660,3850H2713L2721,3858V3890H2660Z"/><path class="fd" d="M2713,3850V3858H2721"/><text x="2662" y="3874">自动连接</text></g>
<g id="n80"><path class="nt o" d="M2660,3910H2752.5L2760.5,3918V3950H2660Z"/><path class="fd" d="M2752.5,3910V3918H2760.5"/><text x="2662" y="3934">selectNetwork()</text></g>
<g id="n81"><path class="nt o" d="M2660,3970H2812.4L2820.4,3978V4010H2660Z"/><path class="fd" d="M2812.4,3970V3978H2820.4"/><text x="2662" y="3994">updateAvailableNetworks()</text></g>
<g id="n82"><path class="nt o" d="M2660,4030H2772L2780,4038V4070H2660Z"/><path class="fd" d="M2772,4030V4038H2780"/><text x="2662" y="4054">connectToNetwork()</text></g>
<g id="n83"><path class="nt o" d="M3510.7,4000.5H4002L4010,4008.5V4200.5H3510.7Z"/><path class="fd" d="M4002,4000.5V4008.5H4010"/><text x="3512.7" y="4032.5">selectNetwork()对scan到网络进行分数更新，选择出最好的网络</text><text x="3512.7" y="4050.5">1) isNetworkSelectionNeeded()，判断是否要进行网络选择</text><text x="3512.7" y="4068.5">--&gt;其中一个参数判断是否要对已经连接的网络进行再选择连接</text><text x="3512.7" y="4086.5">config_wifi_framework_enable_associated_network_selection</text><text x="3512.7" y="4104.5">默认为true,在config.xml中</text><text x="3512.7" y="4122.5">如果为false，就不要对已连接的网络进行再选择，保持当前连接即可</text><text x="3512.7" y="4140.5">如果为true，就会去对当前网络进行再选择，选择网络质量更好的网络进行连接</text><text x="3512.7" y="4158.5">2) evaluateNetworks(),计算出当前最好的网络</text><text x="3512.7" y="4176.5">3）overrideCandidateWithUserConnectChoice()更新用户选择，使用最好的网络配置连接</text></g>
<g id="n84"><path class="nt o" d="M3200.7,4090H3432L3440,4098V4170H3200.7Z"/><path class="fd" d="M3432,4090V4098H3440"/><text x="3202.7" y="4116">updateAvailableNetworks()</text><text x="3202.7" y="4134">更新mRecentAvailableNetworks中的网络</text><text x="3202.7" y="4152">添加新的网络，同时删除旧的网络</text></g>
<g id="n85"><path class="nt r" d="M1950.8,4250.6H2162.4L2170.4,4258.6V4310.6H1950.8Z"/><path class="fd" d="M2162.4,4250.6V4258.6H2170.4"/><text x="1952.8" y="4275.6">startConnectToNetwork()</text><text x="1952.8" y="4293.6">wifi的连接过程，查看wifi-connect-flow</text></g>
<g id="n86"><path class="nt o" d="M2600.4,4240.3H2712L2720,4248.3V4280H2600.4Z"/><path class="fd" d="M2712,4240.3V4248.3H2720"/><text x="2602.4" y="4264">connectToNetwork()</text></g>
<g id="n87"><path class="nt o" d="M2620,4290.4H2772L2780,4298.4V4330H2620Z"/><path class="fd" d="M2772,4290.4V4298.4H2780"/><text x="2622" y="4314">startConnectToNetwork()</text></g>
<g id="n88"><path class="nt r" d="M1960,4340H2172L2180,4348V4420.6H1960Z"/><path class="fd" d="M2172,4340V4348H2180"/><text x="1962" y="4366.3">hasConnectionRequests()为true</text><text x="1962" y="4384.3">发送CMD_START_CONNECT</text><text x="1962" y="4402.3">wifi的连接过程，查看wifi-connect-flow</text></g>
<text class="wm" x="1837" y="2288">https://blog.csdn.net/gh201030460222</text>
</g>
</svg>
